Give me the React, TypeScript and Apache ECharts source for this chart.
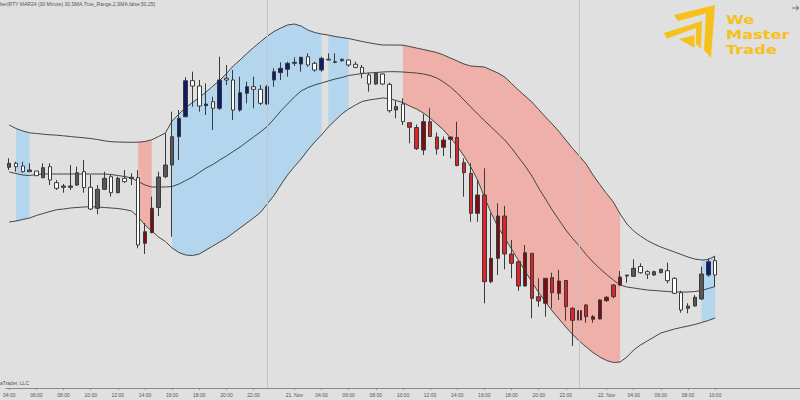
import React, { useEffect, useRef } from "react";
import * as echarts from "echarts";

// ---------- data (price units) ----------
const slotCount = 117; // 30-minute slots on the category axis (last ones empty)
const tickIdx = [0, 4, 8, 12, 16, 20, 24, 28, 32, 36, 42, 46, 50, 54, 58, 62, 66, 70, 74, 78, 82, 88, 92, 96, 100, 104];
const tickText = ["04:00", "06:00", "08:00", "10:00", "12:00", "14:00", "16:00", "18:00", "20:00", "22:00", "21. Nov", "04:00", "06:00", "08:00", "10:00", "12:00", "14:00", "16:00", "18:00", "20:00", "22:00", "22. Nov", "04:00", "06:00", "08:00", "10:00"];
const daySeparators = [38, 84];

// [open, close, low, high]
const candles: number[][] = [
  [232.7, 236.7, 230, 241.7], [236.7, 233.3, 228.3, 238.3], [234, 228.3, 227.3, 238.3], [228.3, 230, 228.3, 236.7], [229, 224.3, 224, 229],
  [222.3, 232.3, 221.7, 236.7], [233.3, 220, 215, 236.7], [217.3, 211.7, 210, 220], [212.7, 214, 207.3, 216], [212.7, 214, 210, 235],
  [215, 227.3, 214, 233.3], [228.3, 212.3, 207.3, 240], [212.7, 191, 190, 225], [191.7, 210.7, 185.7, 215], [210.7, 221.7, 210, 228.3],
  [223.3, 207.3, 203.3, 225], [207.3, 221.7, 206.7, 223.3], [221.7, 218.3, 217.3, 230], [221.5, 222.7, 215, 226.7], [222.3, 155, 151.7, 230],
  [156.7, 168.3, 146, 177], [167.3, 191.7, 166.7, 203.3], [192.5, 223, 184, 228.3], [223.3, 235, 221.7, 266.7], [235, 263.3, 163.3, 288.3],
  [263.3, 281.7, 240, 290], [283.3, 319.3, 282.7, 322.7], [319.3, 314, 293.3, 328.3], [314, 294, 288.3, 320], [294.3, 296, 285, 316.7],
  [298.3, 291.7, 270, 303.3], [291.7, 320, 290, 343.3], [321.7, 320, 315, 335], [320, 290, 280, 330], [290, 307.3, 288.3, 323.3],
  [306.7, 313.3, 296.7, 318.3], [313.3, 310.7, 291.7, 323.3], [310.7, 296.7, 295, 315], [296, 313.3, 295, 315], [320, 328.3, 313.3, 331.7],
  [327.3, 331.7, 320, 337.7], [330.7, 336.7, 323.3, 338.3], [336.7, 337.7, 334, 342.7], [336, 342.7, 328.3, 343.3], [343.3, 335, 333.3, 346.7],
  [336.7, 330, 328.3, 338.3], [330, 341.7, 328.3, 343.3], [340, 340.7, 340, 346.7], [337.7, 338.3, 336.7, 346.7], [339.3, 340.7, 338.3, 341.7],
  [340, 335, 333.3, 340.7], [335.7, 332.7, 331.7, 338.3], [332.7, 326.7, 321.7, 335], [325, 316, 308.3, 327.3], [316, 326.7, 315, 327.3],
  [326, 316, 315, 326.7], [315.7, 289.3, 287.3, 317.3], [290, 293.3, 281.7, 299], [296, 278.3, 275, 301.7], [277.3, 272.7, 256.7, 277.3],
  [272.5, 251.3, 250, 275.5], [250, 278.3, 245, 286], [278.3, 263.5, 263, 291.7], [263, 251, 245.5, 267.5], [252.7, 260, 244, 263.5],
  [260.7, 263, 241.7, 263.3], [262.5, 234.5, 233.7, 278.3], [237.3, 227.3, 203.3, 241.7], [226.7, 186.7, 178.3, 236.7], [186.7, 205, 178.3, 220],
  [205, 118.3, 96.7, 231.7], [118.3, 141.7, 116.7, 186.7], [141.7, 184, 125, 196.7], [184, 146, 130.7, 194], [146, 136.7, 121.7, 160],
  [138.3, 114, 109.3, 140], [114, 147.3, 113.3, 155], [146.7, 101.7, 81.7, 146.7], [103.3, 99, 93.3, 121.7], [96.7, 121.7, 83.3, 121.7],
  [122.3, 107.3, 91.7, 127.3], [106.7, 119, 100, 130], [119.5, 93.3, 79.3, 120], [91.7, 79.7, 54, 93], [80, 89.3, 74, 93],
  [95, 83.3, 77.3, 96], [80.7, 83.3, 77.3, 85], [81, 100, 80.7, 100.7], [99.3, 102.7, 98.3, 104], [115, 103.3, 101.7, 116],
  [115, 123, 114, 129], [124, 125, 117.3, 125], [123.7, 131.7, 123, 140.7], [133.5, 127.3, 126.3, 136.7], [128.3, 125.8, 121, 129.7],
  [125, 128.3, 124, 129.3], [127.3, 130.7, 126.7, 130.7], [129.3, 119.3, 116.7, 137.3], [121.7, 106.7, 106, 122.7], [107.3, 90, 87.3, 109.3],
  [91.7, 94, 86.7, 96.7], [94, 102.7, 93.3, 105], [101, 126, 100, 133.3], [125, 138.3, 123.3, 141.7], [139.3, 125, 113.3, 144],
];

// candle colour state: w = white, g = grey, n = navy, r = red, d = dark red
const candleTone = (
  "gwwgwgwwgg" + "gwwggwgwgw" + "ddgggnnwwn" + "wnwwnnwwnn" + "nnnnwwnggg" +
  "wwwwgwwgwr" + "rdrrddrrrd" + "rddrrrdrrd" + "rdrrdrdddr" + "dggwwggwww" + "gggnw"
).split("");

const upperBand = [
  275, 271.5, 269, 267.2, 266.5, 265.8, 265.2, 264.8, 264.2, 263.5,
  262.8, 262.2, 261.5, 260.5, 259.2, 258.3, 258, 257.8, 257.7, 257.8,
  258.5, 260.2, 263.5, 267, 279, 286, 292.5, 297.5, 302.5, 308,
  314, 319.5, 326.5, 334, 340, 346.5, 352.5, 358.2, 363.7, 368.5,
  372, 375, 376, 374, 370, 367.5, 366, 365, 363.5, 362.5,
  361.5, 360, 358.5, 357.2, 356, 355, 355, 355, 354.8, 353.5,
  352, 350.5, 349, 347.5, 345, 342, 339, 336, 334, 333.5,
  333, 330, 327, 323, 316.5, 310, 304, 298, 290.5, 283,
  276, 268.5, 260, 251.5, 244, 236, 225, 215.5, 206.5, 198,
  186, 176, 169, 164, 159.5, 156, 153, 150.5, 148, 145.5,
  143, 141, 140, 140.5, 144,
];
const middleBand = [
  228, 226.5, 225, 224.5, 225.5, 226, 226, 226, 226, 226,
  226, 226, 226, 226, 226, 225.5, 224.5, 223.5, 222, 218.5,
  215, 213, 213, 213, 213.5, 216, 219.5, 223, 227.5, 232,
  235.5, 240, 244, 248.5, 253, 258, 263, 268, 273.5, 281,
  289, 296, 303, 309, 312.5, 315, 317, 319, 321, 322.5,
  324.5, 325.5, 326.5, 327, 327.5, 328, 328.3, 328.3, 328, 327.5,
  327, 326, 324.5, 322, 318, 313, 307, 300, 293, 286,
  279.5, 273, 266.5, 260, 252, 243, 234, 224, 212, 201,
  190, 180, 170, 161.5, 154, 145.5, 138, 131.5, 125.5, 120,
  115, 113, 112, 111, 110, 109.5, 109, 108.5, 108, 108,
  108, 108.5, 109.5, 111.5, 113.5,
];
const lowerBand = [
  178, 179, 180.5, 182, 184.5, 186.5, 188.5, 190.3, 191, 192,
  192.5, 193, 193.3, 193, 192.5, 192, 191.5, 190.5, 189, 183,
  175, 169, 163, 158.5, 152, 147.5, 145, 144.5, 146, 150,
  154, 158, 162, 167, 172, 177, 182, 187.5, 196, 204.5,
  215, 225, 233.3, 241, 250, 258, 265, 273, 279.5, 286,
  291, 295, 298.5, 300, 301, 302, 301.5, 299.5, 297.5, 294,
  291, 287, 282, 276, 270, 262, 254, 244, 233, 220,
  203, 187, 173, 162, 151, 140, 129, 118, 107.5, 98,
  89, 81, 73, 65.5, 59, 53, 47.5, 43, 39.5, 37.5,
  38, 43, 50, 55, 59, 63, 67, 69, 71, 72.5,
  74, 75.5, 77.5, 79.5, 82,
];

// shaded signal zones (from candle index to candle index)
const shadeStart = [1, 19, 24, 47, 58, 102];
const shadeEnd = [3, 21, 46, 50, 90, 104];
const shadeSide = ["buy", "sell", "buy", "buy", "sell", "buy"];

// logo words
const logoWords = ["We", "Master", "Trade"];

// ---------- styles ----------
const BG = "#e0e0e0";
const toneFill: Record<string, string> = { w: "#ffffff", g: "#585858", n: "#111b6b", r: "#df2329", d: "#7e0c10" };
const WICK = "#3a3a3a";
const sideFill: Record<string, string> = { buy: "#b3d5ed", sell: "#efb0a9" };
const GOLD = "#f6c11c";

export default function App() {
  const ref = useRef<HTMLDivElement>(null);

  useEffect(() => {
    if (!ref.current) return;
    const chart = echarts.init(ref.current, null, { renderer: "svg" });

    const categories = Array.from({ length: slotCount }, (_, i) => String(i));
    const labelAt: Record<number, string> = {};
    tickIdx.forEach((idx, k) => (labelAt[idx] = tickText[k]));
    const isTick = (i: number) => labelAt[i] !== undefined;

    const candleData = candles.map((c, i) => {
      const fill = toneFill[candleTone[i]];
      return {
        value: c,
        itemStyle: { color: fill, color0: fill, borderColor: WICK, borderColor0: WICK, borderWidth: 1 },
      };
    });

    const bandLine = (name: string, data: number[], z: number, extra: any = {}) => ({
      name,
      type: "line",
      data,
      symbol: "none",
      smooth: false,
      z,
      lineStyle: { color: "#454545", width: 1 },
      silent: true,
      ...extra,
    });

    const option: any = {
      animation: false,
      backgroundColor: BG,
      grid: { left: 1, right: 0, top: 0, bottom: 12, containLabel: false },
      xAxis: {
        type: "category",
        data: categories,
        boundaryGap: true,
        axisLine: { show: true, lineStyle: { color: "#8a8a8a", width: 1 } },
        axisTick: {
          show: true,
          alignWithLabel: true,
          interval: (i: number) => isTick(i),
          length: 2,
          lineStyle: { color: "#8a8a8a" },
        },
        axisLabel: {
          interval: (i: number) => isTick(i),
          formatter: (_v: string, i: number) => labelAt[i] ?? "",
          fontSize: 5,
          color: "#555",
          margin: 4,
          fontFamily: "Liberation Sans",
        },
        splitLine: { show: false },
      },
      yAxis: { type: "value", min: 12, max: 400, show: false, splitLine: { show: false } },
      series: [
        {
          type: "custom",
          z: 1,
          silent: true,
          clip: false,
          data: shadeStart.map((s, k) => [s, upperBand[s], k]),
          renderItem: (params: any, api: any) => {
            const k = params.dataIndex;
            const a = shadeStart[k];
            const b = shadeEnd[k];
            const pts: number[][] = [];
            for (let i = a; i <= b; i++) pts.push(api.coord([i, upperBand[i]]));
            for (let i = b; i >= a; i--) pts.push(api.coord([i, lowerBand[i]]));
            return { type: "polygon", shape: { points: pts }, style: { fill: sideFill[shadeSide[k]], stroke: null } };
          },
        },
        bandLine("upper", upperBand, 2, {
          markLine: {
            silent: true,
            symbol: ["none", "none"],
            label: { show: false },
            lineStyle: { color: "#c4c4c4", width: 1, type: "solid" },
            data: daySeparators.map((i) => ({ xAxis: i })),
          },
        }),
        bandLine("middle", middleBand, 2),
        bandLine("lower", lowerBand, 2),
        {
          type: "candlestick",
          z: 3,
          barWidth: 4,
          silent: true,
          data: candleData,
        },
      ],
      graphic: [
        {
          type: "text",
          left: 0,
          top: 1,
          silent: true,
          style: {
            text: "lter(RTY MAR24 (30 Minute) 30,SMA,True_Range,2,SMA,false,50,25)",
            fill: "#555",
            fontSize: 5,
            fontFamily: "Liberation Sans",
          },
        },
        {
          type: "text",
          left: 0,
          top: 380,
          silent: true,
          style: { text: "aTrader, LLC", fill: "#555", fontSize: 5, fontFamily: "Liberation Sans" },
        },
        // arrow icon top right
        { type: "line", silent: true, shape: { x1: 792, y1: 8, x2: 799, y2: 8 }, style: { stroke: "#555", lineWidth: 0.8 } },
        { type: "polyline", silent: true, shape: { points: [[796, 5.5], [798.8, 8], [796, 10.5]] }, style: { stroke: "#555", lineWidth: 0.8, fill: null } },
        // logo
        { type: "polygon", silent: true, shape: { points: [[674, 15], [715, 5], [711, 58], [704, 50], [706, 13.5], [678, 21]] }, style: { fill: GOLD } },
        { type: "polygon", silent: true, shape: { points: [[664, 33], [702, 21], [701, 49], [696, 44], [696, 28], [667, 38.5]] }, style: { fill: GOLD } },
        { type: "polygon", silent: true, shape: { points: [[679, 39], [694.5, 35], [694.5, 48]] }, style: { fill: GOLD } },
        ...logoWords.map((w, k) => ({
          type: "text",
          silent: true,
          x: 726,
          y: 20 + k * 15,
          scaleX: 1.3,
          style: {
            text: w,
            fill: GOLD,
            fontSize: 12.5,
            fontWeight: "bold",
            fontFamily: "DejaVu Sans",
            verticalAlign: "middle",
          },
        })),
      ],
    };

    chart.setOption(option);
    return () => chart.dispose();
  }, []);

  return (
    <div
      ref={ref}
      style={{ position: "fixed", left: 0, top: 0, width: 800, height: 400, background: BG }}
    />
  );
}
